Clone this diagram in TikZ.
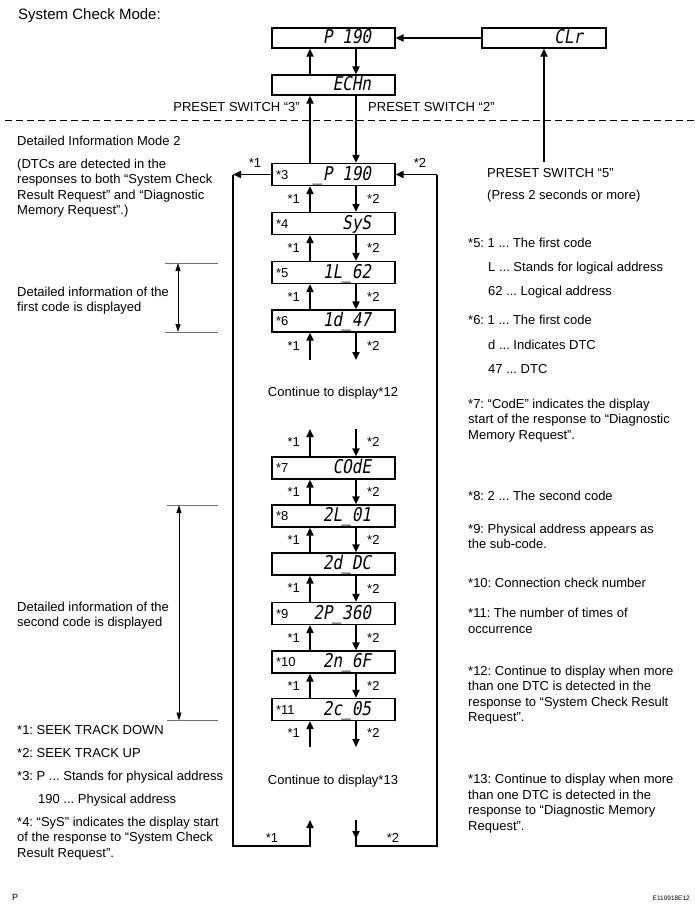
\documentclass[tikz,border=0pt]{standalone}
\usepackage{fontspec}
\setmainfont{Liberation Sans}
\newfontfamily\lcdfont[FakeSlant=0.18,FakeStretch=0.84]{DejaVu Sans Mono}
\usetikzlibrary{arrows.meta}
\frenchspacing
% content of a display box: tag, display text, box width, right padding
\newcommand\lcdcontent[4]{\smash{\raisebox{-5.5pt}{\makebox[#3][l]{\hspace{4pt}\raisebox{0.8pt}{#1}\hfill{\lcdfont\fontsize{19}{19}\selectfont #2}\hspace{#4}}}}}
\tikzset{
  arr/.style={-{Triangle[length=8pt,width=7pt]}, line width=1.8pt},
  loopline/.style={line width=1.8pt},
  lcdbox/.style={draw, line width=1.2pt, fill=white, minimum width=123pt, minimum height=22pt, inner sep=0pt, font={\fontsize{13}{15}\selectfont}},
  tag/.style={font={\fontsize{13}{15}\selectfont}, inner sep=0pt},
  note/.style={font={\fontsize{13}{15.5}\selectfont}, inner sep=0pt, anchor=base west, align=left},
  dimarr/.style={{Triangle[length=8pt,width=5pt]}-{Triangle[length=8pt,width=5pt]}, line width=0.8pt},
  ext/.style={line width=0.5pt, draw=black!55},
  dashline/.style={dash pattern=on 7pt off 4pt, line width=1pt}
}
\newcommand\lcdrow[4]{%
  \node[lcdbox] (#1) at (333.5,#2) {\lcdcontent{#3}{#4}{123pt}{24pt}};
}
\newcommand\keypair[2]{%
  \node[tag, anchor=east] (#1a) at (300,#2) {*1};
  \node[tag, anchor=west] (#1b) at (367,#2) {*2};
}
\begin{document}
\begin{tikzpicture}[x=1pt,y=-1pt]
\useasboundingbox (0,0) rectangle (695,914);

% title
\node[anchor=base west, inner sep=0pt, font={\fontsize{15}{18}\selectfont}] (title) at (18,19) {System Check Mode:};

% guide coordinates
\coordinate (up) at (310,0);
\coordinate (dn) at (356,0);

% top boxes
\node[lcdbox, minimum height=20pt] (p190) at (333.5,38) {\lcdcontent{}{P 190}{123pt}{24pt}};
\node[lcdbox, minimum height=20pt] (echn) at (333.5,85) {\lcdcontent{}{ECHn}{123pt}{24pt}};
\node[lcdbox, minimum height=20pt, minimum width=124pt] (clr) at (544,38) {\lcdcontent{}{CLr}{124pt}{23pt}};

\draw[arr] (clr.west) -- (p190.east);
\draw[arr] (echn.north -| up) -- (p190.south -| up);
\draw[arr] (p190.south -| dn) -- (echn.north -| dn);

\node[tag, anchor=base east] (ps3) at (300,111) {PRESET SWITCH “3”};
\node[tag, anchor=base west] (ps2) at (368,111) {PRESET SWITCH “2”};

% dashed separator
\coordinate (dashL) at (5,120);
\coordinate (dashR) at (695,120);
\draw[dashline] (dashL) -- (dashR);

% display rows
\lcdrow{b3}{174.5}{*3}{\_P 190}
\lcdrow{b4}{223.5}{*4}{SyS}
\lcdrow{b5}{272.5}{*5}{1L\_62}
\lcdrow{b6}{321}{*6}{1d\_47}
\lcdrow{b7}{468}{*7}{COdE}
\lcdrow{b8}{516}{*8}{2L\_01}
\lcdrow{bdc}{564}{}{2d\_DC}
\lcdrow{b9}{613.5}{*9}{2P\_360}
\lcdrow{b10}{662}{*10}{2n\_6F}
\lcdrow{b11}{709.5}{*11}{2c\_05}

% connections to ECHn
\draw[arr] (b3.north -| up) -- (echn.south -| up);
\draw[arr] (echn.south -| dn) -- (b3.north -| dn);

% arrows between rows
\foreach \lo/\hi in {b4/b3,b5/b4,b6/b5,b8/b7,bdc/b8,b9/bdc,b10/b9,b11/b10}{
  \draw[arr] (\lo.north -| up) -- (\hi.south -| up);
  \draw[arr] (\hi.south -| dn) -- (\lo.north -| dn);
}
\keypair{k34}{199}
\keypair{k45}{248}
\keypair{k56}{297}
\keypair{k78}{492}
\keypair{k8d}{540}
\keypair{kd9}{588.5}
\keypair{k910}{638}
\keypair{k1011}{686}

% stubs after b6
\coordinate (s6u) at (310,360);
\coordinate (s6d) at (356,360);
\draw[arr] (s6u) -- (b6.south -| up);
\draw[arr] (b6.south -| dn) -- (s6d);
\keypair{k6x}{346}

\node[tag] (cont12) at (333,393) {Continue to display*12};

% stubs before b7
\coordinate (s7u) at (310,429);
\coordinate (s7d) at (356,429);
\draw[arr] (b7.north -| up) -- (s7u);
\draw[arr] (s7d) -- (b7.north -| dn);
\keypair{k7x}{442}

% stubs after b11
\coordinate (s11u) at (310,747);
\coordinate (s11d) at (356,747);
\draw[arr] (s11u) -- (b11.south -| up);
\draw[arr] (b11.south -| dn) -- (s11d);
\keypair{k11x}{733}

\node[tag] (cont13) at (333,781) {Continue to display*13};

% outer loop
\coordinate (lt) at (233,174.5);
\coordinate (rt) at (437,174.5);
\coordinate (bl) at (233,846);
\coordinate (br) at (437,846);
\coordinate (bu) at (310,820);
\coordinate (bd) at (356,820);
\coordinate (bdtip) at (356,839);
\draw[arr] (b3.west) -- (lt);
\draw[arr] (lt) -- (bl) -- (bl -| up) -- (bu);
\draw[loopline] (bd) -- (bd |- br) -- (br) -- (rt);
\draw[arr] (rt) -- (b3.east);
\draw[arr] (bd) -- (bdtip);
\node[tag] (lk1) at (255,163) {*1};
\node[tag] (rk2) at (420,163) {*2};
\node[tag] (bk1) at (272,838) {*1};
\node[tag] (bk2) at (393,838) {*2};

% preset switch 5
\node[note] (ps5) at (487,177.5) {PRESET SWITCH “5”};
\node[note] (press) at (487,199.5) {(Press 2 seconds or more)};
\coordinate (ps5top) at (544,162);
\draw[arr] (ps5top) -- (clr.south);

% left texts (base anchor = baseline of last line)
\node[note] (dim2) at (17,145) {Detailed Information Mode 2};
\node[note] (dtcs) at (17,214.5) {(DTCs are detected in the\\responses to both “System Check\\Result Request” and “Diagnostic\\Memory Request”.)};

\coordinate (e1a) at (165,263);
\coordinate (e1b) at (218,263);
\coordinate (e1c) at (165,332);
\coordinate (e1d) at (218,332);
\draw[ext] (e1a) -- (e1b);
\draw[ext] (e1c) -- (e1d);
\coordinate (d1a) at (178,263);
\coordinate (d1b) at (178,332);
\draw[dimarr] (d1a) -- (d1b);
\node[note] (first) at (17,311.5) {Detailed information of the\\first code is displayed};

\coordinate (e2a) at (167,505);
\coordinate (e2b) at (218,505);
\coordinate (e2c) at (167,720.5);
\coordinate (e2d) at (218,720.5);
\draw[ext] (e2a) -- (e2b);
\draw[ext] (e2c) -- (e2d);
\coordinate (d2a) at (179,505);
\coordinate (d2b) at (179,720.5);
\draw[dimarr] (d2a) -- (d2b);
\node[note] (second) at (17,626.5) {Detailed information of the\\second code is displayed};

\node[note] (n1) at (17,734) {*1: SEEK TRACK DOWN};
\node[note] (n2) at (17,757) {*2: SEEK TRACK UP};
\node[note] (n3) at (17,780) {*3: P ... Stands for physical address};
\node[note] (n3b) at (38,803) {190 ... Physical address};
\node[note] (n4) at (17,857) {*4: “SyS” indicates the display start\\of the response to “System Check\\Result Request”.};

% right notes
\node[note] (n5) at (468,247.5) {*5: 1 ... The first code};
\node[note] (n5b) at (488,271.5) {L ... Stands for logical address};
\node[note] (n5c) at (488,295.5) {62 ... Logical address};
\node[note] (n6) at (468,324.5) {*6: 1 ... The first code};
\node[note] (n6b) at (488,349.5) {d ... Indicates DTC};
\node[note] (n6c) at (488,373.5) {47 ... DTC};
\node[note] (n7) at (468,439) {*7: “CodE” indicates the display\\start of the response to “Diagnostic\\Memory Request”.};
\node[note] (n8) at (468,500) {*8: 2 ... The second code};
\node[note] (n9) at (468,548.5) {*9: Physical address appears as\\the sub-code.};
\node[note] (n10) at (468,587) {*10: Connection check number};
\node[note] (n11) at (468,633) {*11: The number of times of\\occurrence};
\node[note] (n12) at (468,721.5) {*12: Continue to display when more\\than one DTC is detected in the\\response to “System Check Result\\Request”.};
\node[note] (n13) at (468,830) {*13: Continue to display when more\\than one DTC is detected in the\\response to “Diagnostic Memory\\Request”.};

% footer
\node[anchor=base west, inner sep=0pt, font={\fontsize{9}{10}\selectfont}] (pmark) at (12,900) {P};
\node[anchor=base east, inner sep=0pt, font={\fontsize{6.5}{7}\selectfont}] (code) at (690,900) {E110918E12};
\end{tikzpicture}
\end{document}
